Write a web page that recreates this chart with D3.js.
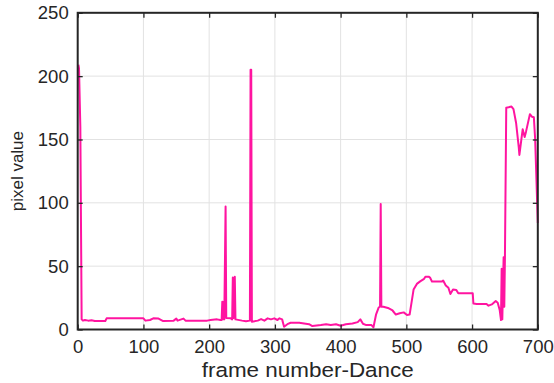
<!DOCTYPE html>
<html>
<head>
<meta charset="utf-8">
<script src="https://cdn.jsdelivr.net/npm/d3@7"></script>
<style>
  html, body { margin: 0; padding: 0; background: #ffffff; }
  svg { display: block; }
</style>
</head>
<body>
<svg id="chart" width="554" height="383"></svg>
<script>
// ---- data ----
const frames = [1, 2, 4, 6, 8, 11, 16, 21, 26, 42, 44, 100, 103, 110, 115, 123, 130, 146, 150, 152,
  161, 164, 197, 202, 212, 217, 219, 220, 221, 222, 223, 225, 226, 233, 235, 236, 237, 239, 240, 250,
  256, 262, 263, 264, 265, 274, 279, 284, 289, 294, 299, 304, 307, 311, 314, 319, 324, 337, 352, 357,
  370, 378, 385, 393, 400, 408, 418, 426, 430, 434, 439, 447, 450, 454, 458, 460, 461, 462, 465, 472,
  479, 484, 490, 496, 501, 505, 511, 516, 521, 524, 527, 529, 534, 536, 539, 554, 556, 560, 564, 567,
  571, 576, 579, 601, 602, 607, 622, 625, 630, 636, 639, 642, 644, 645, 646, 648, 649, 650, 652, 660,
  663, 667, 671, 672, 675, 677, 680, 682, 688, 691, 694, 696, 700];
const pixelValues = [209, 206, 160, 8, 7, 7.5, 7, 7.3, 6.7, 6.7, 8.8, 8.8, 7, 7.5, 8.8, 8.6, 6.7, 7, 8.6, 7,
  8.6, 7, 7, 7.5, 8, 7.5, 7.5, 22, 8, 22, 8, 97, 9, 8.8, 8, 41, 9, 41.7, 8, 7,
  6.5, 7, 205, 205, 6.2, 7, 8.2, 7, 8.8, 8, 8.8, 7.5, 8.8, 8, 2.2, 4.2, 5.3, 5.3, 4.2, 2.7,
  3.5, 4.2, 3.5, 4.2, 3, 4.2, 4.7, 5.8, 8, 4.5, 3.5, 3.5, 1.8, 12, 17.5, 18, 99, 18, 18, 17,
  15, 11.8, 12.8, 13.5, 11.5, 11.8, 31.5, 36, 38, 39, 40, 41.7, 41.7, 41, 37.8, 37.8, 38.6, 34.8, 33, 28,
  31.5, 31.2, 28.6, 28.6, 20.5, 20.2, 20.2, 18.8, 19.8, 22.5, 21.2, 15.4, 7.5, 48, 8, 57, 18, 57, 175, 176,
  174, 163, 144, 137.8, 150, 158, 152, 156, 170, 168, 167.6, 150, 84];
const xTicks = [0, 100, 200, 300, 400, 500, 600, 700];
const yTicks = [0, 50, 100, 150, 200, 250];
const xLabel = "frame number-Dance";
const yLabel = "pixel value";

// ---- layout ----
const pLeft = 77.7, pRight = 537.8, pTop = 12.8, pBottom = 329.5;
const svg = d3.select("#chart");
const x = d3.scaleLinear().domain([0, 700]).range([pLeft, pRight]);
const y = d3.scaleLinear().domain([0, 250]).range([pBottom, pTop]);
const axisColor = "#262626";
const font = "'Liberation Sans', Arial, Helvetica, sans-serif";

// grid
const grid = svg.append("g");
grid.selectAll("line.gx").data(xTicks).enter().append("line")
  .attr("x1", d => x(d)).attr("x2", d => x(d)).attr("y1", pTop).attr("y2", pBottom)
  .attr("stroke", "#e2e2e2").attr("stroke-width", 1);
grid.selectAll("line.gy").data(yTicks).enter().append("line")
  .attr("x1", pLeft).attr("x2", pRight).attr("y1", d => y(d)).attr("y2", d => y(d))
  .attr("stroke", "#e2e2e2").attr("stroke-width", 1);

// data line
const line = d3.line().x((d, i) => x(frames[i])).y(d => y(d));
svg.append("path").datum(pixelValues)
  .attr("d", line)
  .attr("fill", "none")
  .attr("stroke", "#ff14a0")
  .attr("stroke-width", 2)
  .attr("stroke-linejoin", "round");

// axes (ticks inward)
function styleAxis(g) {
  g.select(".domain").remove();
  g.selectAll(".tick line").attr("stroke", axisColor).attr("stroke-width", 1.3);
  g.selectAll(".tick text").attr("fill", axisColor).style("font-family", font).style("font-size", "18.5px");
}
svg.append("g").attr("transform", `translate(0,${pBottom})`)
  .call(d3.axisBottom(x).tickValues(xTicks).tickSizeInner(-5).tickSizeOuter(0).tickPadding(10))
  .call(styleAxis);
svg.append("g").attr("transform", `translate(0,${pTop})`)
  .call(d3.axisTop(x).tickValues(xTicks).tickSizeInner(-5).tickSizeOuter(0).tickFormat(""))
  .call(styleAxis);
svg.append("g").attr("transform", `translate(${pLeft},0)`)
  .call(d3.axisLeft(y).tickValues(yTicks).tickSizeInner(-5).tickSizeOuter(0).tickPadding(9))
  .call(styleAxis);
svg.append("g").attr("transform", `translate(${pRight},0)`)
  .call(d3.axisRight(y).tickValues(yTicks).tickSizeInner(-5).tickSizeOuter(0).tickFormat(""))
  .call(styleAxis);

// box
svg.append("rect")
  .attr("x", pLeft).attr("y", pTop).attr("width", pRight - pLeft).attr("height", pBottom - pTop)
  .attr("fill", "none").attr("stroke", axisColor).attr("stroke-width", 2);

// axis labels
svg.append("text")
  .attr("x", (pLeft + pRight) / 2).attr("y", 377)
  .attr("text-anchor", "middle")
  .attr("fill", axisColor)
  .attr("textLength", 212)
  .attr("lengthAdjust", "spacingAndGlyphs")
  .style("font-family", font).style("font-size", "20.5px")
  .text(xLabel);
svg.append("text")
  .attr("transform", `translate(23,${(pTop + pBottom) / 2}) rotate(-90)`)
  .attr("text-anchor", "middle")
  .attr("fill", axisColor)
  .style("font-family", font).style("font-size", "17px")
  .text(yLabel);
</script>
</body>
</html>
